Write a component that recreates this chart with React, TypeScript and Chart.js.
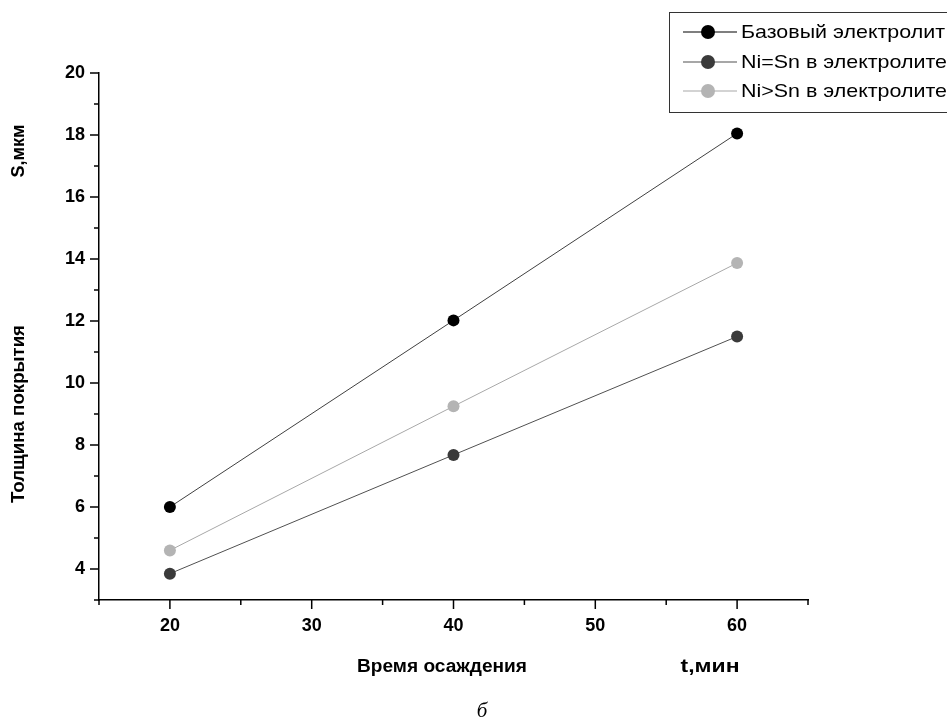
import React, { useEffect, useRef } from "react";
import { Chart, registerables } from "chart.js";

Chart.register(...registerables);

// ---- data ----
const timeMin = [20, 40, 60];
const baseElectrolyte = [6.0, 12.02, 18.05];
const niEqSn = [3.85, 7.68, 11.5];
const niGtSn = [4.6, 9.25, 13.87];
const seriesNames = ["Базовый электролит", "Ni=Sn в электролите", "Ni>Sn в электролите"];
const markerColors = ["#000000", "#3a3a3a", "#b4b4b4"];
const lineColors = ["#404040", "#505050", "#a8a8a8"];
const yTitleTop = "S,мкм";
const yTitleMain = "Толщина покрытия";
const xTitleMain = "Время осаждения";
const xTitleUnit = "t,мин";
const caption = "б";

const FONT = "'Liberation Sans', Arial, sans-serif";

function fitText(ctx: CanvasRenderingContext2D, text: string, cx: number, cy: number, width: number, rotate = false) {
  const w = ctx.measureText(text).width;
  const sx = width / w;
  ctx.save();
  ctx.translate(cx, cy);
  if (rotate) ctx.rotate(-Math.PI / 2);
  ctx.scale(sx, 1);
  ctx.fillText(text, 0, 0);
  ctx.restore();
}

const decorPlugin = {
  id: "decor",
  afterDraw(chart: any) {
    const ctx: CanvasRenderingContext2D = chart.ctx;
    const xs = chart.scales.x;
    const ys = chart.scales.y;
    const area = chart.chartArea;
    ctx.save();
    // tick marks (major + minor)
    ctx.strokeStyle = "#000";
    ctx.lineWidth = 1.5;
    ys.ticks.forEach((t: any) => {
      const py = ys.getPixelForValue(t.value);
      const major = t.value % 2 === 0;
      ctx.beginPath();
      ctx.moveTo(area.left, py);
      ctx.lineTo(area.left - (major ? 9 : 5), py);
      ctx.stroke();
    });
    xs.ticks.forEach((t: any) => {
      const px = xs.getPixelForValue(t.value);
      const major = t.value % 10 === 0;
      ctx.beginPath();
      ctx.moveTo(px, area.bottom);
      ctx.lineTo(px, area.bottom + (major ? 9 : 5));
      ctx.stroke();
    });

    // axis titles
    ctx.fillStyle = "#000";
    ctx.textAlign = "center";
    ctx.textBaseline = "middle";
    ctx.font = `bold 18px ${FONT}`;
    fitText(ctx, yTitleTop, 19, 151, 53, true);
    fitText(ctx, yTitleMain, 19, 414, 178, true);
    fitText(ctx, xTitleMain, 442, 667, 170);
    fitText(ctx, xTitleUnit, 710, 667, 59);

    // caption
    ctx.font = "italic 21px 'Liberation Serif', 'DejaVu Serif', serif";
    ctx.fillText(caption, 482, 711);

    // legend
    ctx.fillStyle = "#fff";
    ctx.fillRect(669.5, 12.5, 300, 100);
    ctx.strokeStyle = "#333";
    ctx.lineWidth = 1;
    ctx.strokeRect(669.5, 12.5, 300, 100);
    const rows = [32, 62, 91];
    ctx.font = `19px ${FONT}`;
    ctx.textAlign = "left";
    const sx = 204 / ctx.measureText(seriesNames[0]).width;
    seriesNames.forEach((name, i) => {
      const cy = rows[i];
      ctx.strokeStyle = i === 0 ? "#000" : lineColors[i];
      ctx.lineWidth = 1.2;
      ctx.beginPath();
      ctx.moveTo(683, cy);
      ctx.lineTo(737, cy);
      ctx.stroke();
      ctx.fillStyle = markerColors[i];
      ctx.beginPath();
      ctx.arc(708, cy, 7, 0, Math.PI * 2);
      ctx.fill();
      ctx.fillStyle = "#000";
      ctx.save();
      ctx.translate(741, cy + 1);
      ctx.scale(sx, 1);
      ctx.fillText(name, 0, 0);
      ctx.restore();
    });
    ctx.restore();
  },
};

export default function App() {
  const ref = useRef<HTMLCanvasElement | null>(null);
  useEffect(() => {
    if (!ref.current) return;
    const series = [baseElectrolyte, niEqSn, niGtSn];
    const chart = new Chart(ref.current, {
      type: "line",
      data: {
        datasets: series.map((vals, i) => ({
          label: seriesNames[i],
          data: timeMin.map((x, j) => ({ x, y: vals[j] })),
          borderColor: lineColors[i],
          borderWidth: 1,
          pointRadius: 6,
          pointBackgroundColor: markerColors[i],
          pointBorderColor: markerColors[i],
          pointBorderWidth: 0,
          fill: false,
          tension: 0,
        })),
      },
      options: {
        responsive: false,
        animation: false,
        layout: { padding: { top: 73, right: 139, left: 0, bottom: 0 } },
        plugins: { legend: { display: false }, tooltip: { enabled: false } },
        scales: {
          x: {
            type: "linear",
            min: 15,
            max: 65,
            afterFit: (s: any) => {
              s.height = 124;
            },
            grid: { display: false, drawTicks: false },
            border: { display: true, color: "#000", width: 1.5 },
            ticks: {
              stepSize: 5,
              autoSkip: false,
              maxRotation: 0,
              padding: 15,
              color: "#000",
              font: { family: FONT, size: 18, weight: "bold" },
              callback: (v: any) => (Number(v) % 10 === 0 ? String(v) : ""),
            },
          },
          y: {
            type: "linear",
            min: 3,
            max: 20,
            afterFit: (s: any) => {
              s.width = 99;
            },
            grid: { display: false, drawTicks: false },
            border: { display: true, color: "#000", width: 1.5 },
            ticks: {
              stepSize: 1,
              autoSkip: false,
              padding: 14,
              color: "#000",
              font: { family: FONT, size: 18, weight: "bold" },
              callback: (v: any) => (Number(v) % 2 === 0 ? String(v) : ""),
            },
          },
        },
      },
      plugins: [decorPlugin],
    });
    return () => chart.destroy();
  }, []);
  return (
    <div style={{ position: "fixed", left: 0, top: 0, width: 947, height: 724, background: "#fff" }}>
      <canvas ref={ref} width={947} height={724} style={{ display: "block" }} />
    </div>
  );
}
